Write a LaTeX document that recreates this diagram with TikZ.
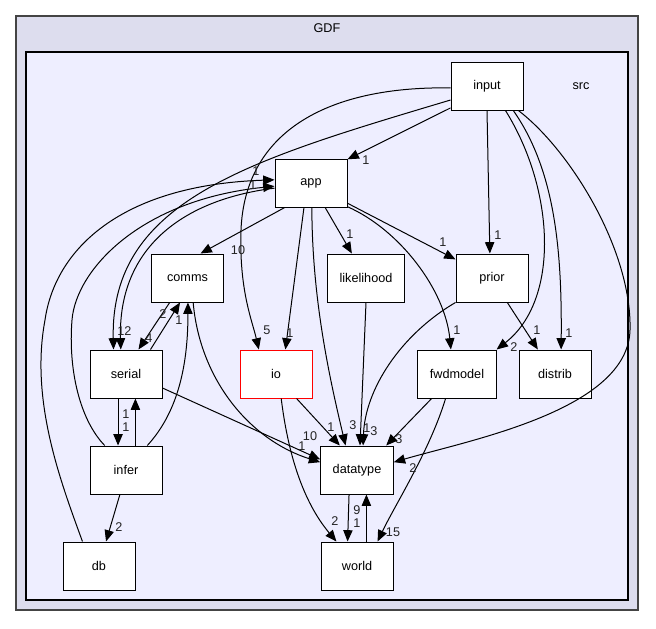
\documentclass[tikz,border=0pt]{standalone}
\usepackage{fontspec}
\setmainfont{Liberation Sans}
\usepackage{tikz}
\usetikzlibrary{arrows.meta}
\definecolor{outerbg}{HTML}{DDDDEE}
\definecolor{innerbg}{HTML}{EEEEFF}
\definecolor{frame}{HTML}{444444}
\definecolor{ink}{HTML}{000000}
\definecolor{numink}{HTML}{222222}
\tikzset{
  dirbox/.style={rectangle,draw=black,fill=white,line width=0.75pt,
    minimum width=54pt,minimum height=36pt,inner xsep=9pt,
    font=\fontsize{9.5}{11}\selectfont},
  curdir/.style={dirbox,draw=red},
  dep/.style={-{Triangle[length=8.5pt,width=7pt]},line width=0.75pt,draw=ink},
  num/.style={font=\fontsize{9.5}{11}\selectfont,text=numink,inner sep=0pt},
  clus/.style={font=\fontsize{9.5}{11}\selectfont},
}

\begin{document}
\begin{tikzpicture}[x=0.75pt,y=-0.75pt]
  \useasboundingbox (0,0) rectangle (656,628);
  % clusters
  \filldraw[fill=outerbg,draw=frame,line width=1pt] (16,16) rectangle (638,610);
  \filldraw[fill=innerbg,draw=black,line width=0.9pt] (26,52) rectangle (628,600);
  \node[clus] (gdf) at (327,28) {GDF};
  \node[clus] (src) at (581,86) {src};
  % directories
  \node[dirbox] (input) at (487,86) {input};
  \node[dirbox] (app) at (311,183) {app};
  \node[dirbox] (comms) at (187.5,278) {comms};
  \node[dirbox] (likelihood) at (366,278) {likelihood};
  \node[dirbox] (prior) at (492,278) {prior};
  \node[dirbox] (serial) at (126,374) {serial};
  \node[curdir] (io) at (276,374) {io};
  \node[dirbox] (fwdmodel) at (457,374) {fwdmodel};
  \node[dirbox] (distrib) at (555,374) {distrib};
  \node[dirbox] (infer) at (126,470) {infer};
  \node[dirbox] (datatype) at (357,470) {datatype};
  \node[dirbox] (db) at (99,566) {db};
  \node[dirbox] (world) at (357,566) {world};
  % from input
  \draw[dep] (input.211) -- (app.33);
  \draw[dep] (input.201) .. controls (250,160) and (110,200) .. (serial.117);
  \draw[dep] (input.183) .. controls (330,86) and (245,130) .. (241,230)
    .. controls (239,290) and (252,320) .. (io.125);
  \draw[dep] (input.270) -- (prior.95);
  \draw[dep] (input.-53) .. controls (555,190) and (560,300) .. (fwdmodel.north east);
  \draw[dep] (input.-43) .. controls (555,170) and (562,250) .. (distrib.76);
  \draw[dep] (input.-38) .. controls (570,150) and (632,250) .. (630,330)
    .. controls (628,410) and (470,440) .. (datatype.12);
  % from app
  \draw[dep] (app.-137) -- (comms.62);
  \draw[dep] (app.-60) -- (likelihood.120);
  \draw[dep] (app.-29) -- (prior.153);
  \draw[dep] (app.-33) .. controls (400,230) and (445,290) .. (fwdmodel.104);
  \draw[dep] (app.-106) -- (io.69);
  \draw[dep] (app.-88) .. controls (312,300) and (330,380) .. (datatype.115);
  \draw[dep] (app.188) .. controls (180,200) and (118,250) .. (serial.102);
  % into app
  \draw[dep] (db.124) .. controls (60,480) and (30,400) .. (45,320)
    .. controls (55,250) and (120,185) .. (app.175);
  \draw[dep] (infer.131) .. controls (80,420) and (68,370) .. (72,320)
    .. controls (76,270) and (140,200) .. (app.185);
  % comms / serial / infer
  \draw[dep] (infer.49) .. controls (180,410) and (188,360) .. (comms.-89);
  \draw[dep] (comms.-126) -- (serial.63);
  \draw[dep] (serial.45) -- (comms.-107);
  \draw[dep] (comms.-77) .. controls (200,380) and (250,440) .. (datatype.168);
  \draw[dep] (serial.-21) -- (datatype.164);
  \draw[dep] (serial.-108) -- (infer.108);
  \draw[dep] (infer.69) -- (serial.-69);
  \draw[dep] (infer.-104) -- (db.74);
  % into datatype and world
  \draw[dep] (io.-50) -- (datatype.125);
  \draw[dep] (io.-78) .. controls (290,470) and (310,510) .. (world.130);
  \draw[dep] (likelihood.south) -- (datatype.83);
  \draw[dep] (prior.south west) .. controls (400,335) and (365,390) .. (datatype.76);
  \draw[dep] (prior.-58) -- (distrib.125);
  \draw[dep] (fwdmodel.-136) -- (datatype.40);
  \draw[dep] (fwdmodel.-115) .. controls (430,450) and (395,505) .. (world.50);
  \draw[dep] (datatype.-108) -- (world.111);
  \draw[dep] (world.69) -- (datatype.-69);
  % counts
  \node[num] (c-in-app) at (366,160) {1};
  \node[num] (c-in-prior) at (498,235) {1};
  \node[num] (c-app-comms) at (238,250) {10};
  \node[num] (c-app-lik) at (350,234) {1};
  \node[num] (c-app-prior) at (443,242) {1};
  \node[num] (c-db-app) at (256,171) {1};
  \node[num] (c-inf-app) at (253,185) {1};
  \node[num] (c-in-serial) at (121,331) {1};
  \node[num] (c-app-serial) at (128,331) {2};
  \node[num] (c-ser-comms) at (163,314) {2};
  \node[num] (c-inf-comms) at (179,320) {1};
  \node[num] (c-comms-ser) at (149,338) {4};
  \node[num] (c-in-io) at (267,330) {5};
  \node[num] (c-app-io) at (290,333) {1};
  \node[num] (c-app-fwd) at (457,330) {1};
  \node[num] (c-in-fwd) at (514,347) {2};
  \node[num] (c-prior-dist) at (537,330) {1};
  \node[num] (c-in-dist) at (569,333) {1};
  \node[num] (c-io-dt) at (331,427) {1};
  \node[num] (c-app-dt) at (353,425) {3};
  \node[num] (c-lik-dt) at (367,428) {1};
  \node[num] (c-prior-dt) at (374,431) {3};
  \node[num] (c-fwd-dt) at (399,439) {3};
  \node[num] (c-ser-dt) at (302,446) {1};
  \node[num] (c-comms-dt) at (310,436) {10};
  \node[num] (c-in-dt) at (413,468) {2};
  \node[num] (c-io-world) at (335,521) {2};
  \node[num] (c-world-dt) at (357,510) {9};
  \node[num] (c-dt-world) at (357,523) {1};
  \node[num] (c-fwd-world) at (393,532) {15};
  \node[num] (c-ser-inf) at (126,414) {1};
  \node[num] (c-inf-ser) at (126,427) {1};
  \node[num] (c-inf-db) at (119,527) {2};
\end{tikzpicture}
\end{document}
